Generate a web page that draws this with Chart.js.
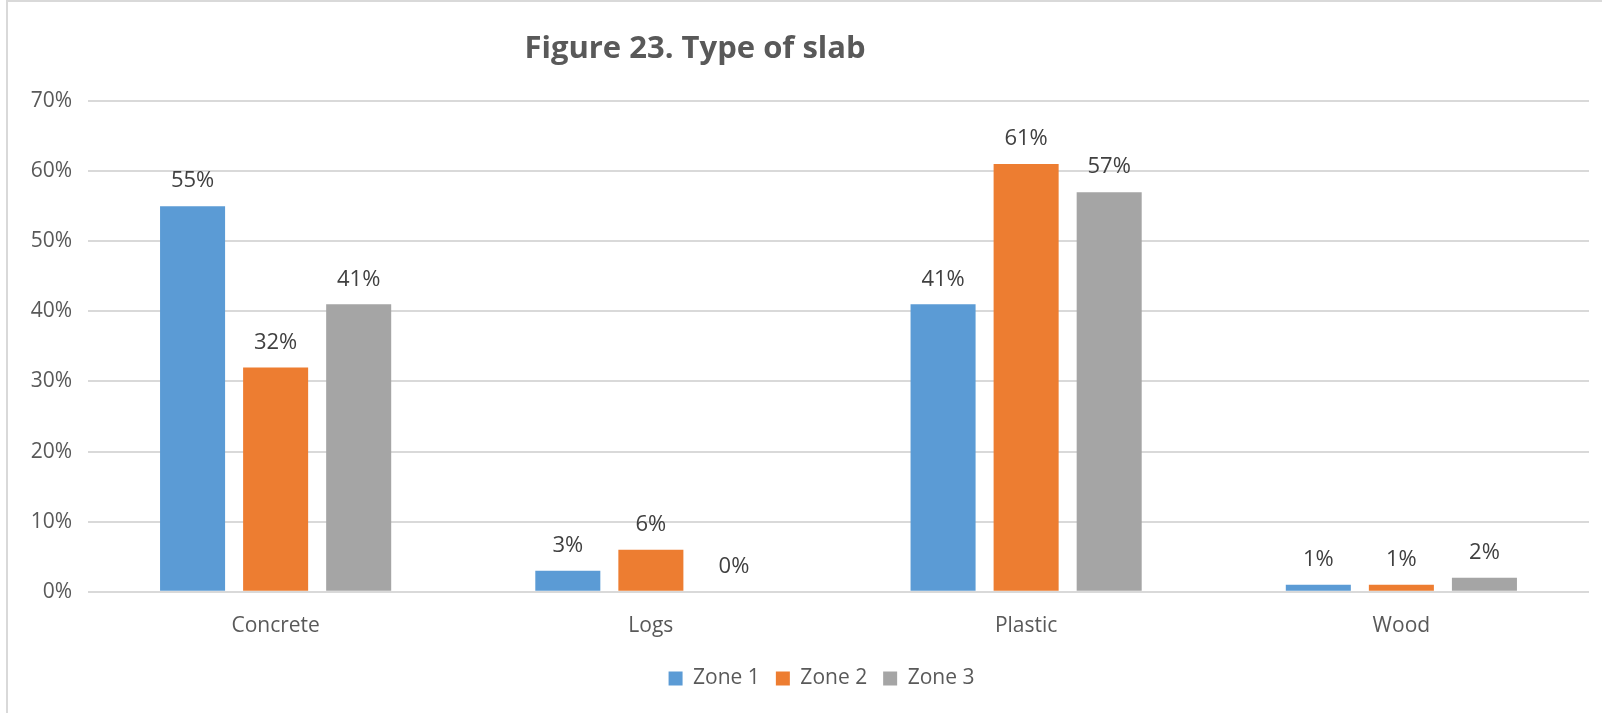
<!DOCTYPE html>
<html>
<head>
<meta charset="utf-8">
<script src="https://cdn.jsdelivr.net/npm/chart.js@4"></script>
<style>
  html, body { margin: 0; padding: 0; background: #fff; overflow: hidden; }
  #frame {
    position: absolute; left: 6px; top: 0;
    width: 1594px; height: 711px;
    border: 2px solid #d9d9d9;
  }
  #chart { display: block; }
</style>
</head>
<body>
<div id="frame"><canvas id="chart" width="1594" height="711"></canvas></div>
<script>
const categories = ['Concrete', 'Logs', 'Plastic', 'Wood'];
const zone1 = [55, 3, 41, 1];
const zone2 = [32, 6, 61, 1];
const zone3 = [41, 0, 57, 2];
const yTicks = [0, 10, 20, 30, 40, 50, 60, 70];
const titleText = 'Figure 23. Type of slab';

const FONT = '"Open Sans", "Liberation Sans", sans-serif';

// title sits left of centre in the original, so draw it ourselves
const titlePlugin = {
  id: 'offsetTitle',
  afterDraw(chart) {
    const ctx = chart.ctx;
    ctx.save();
    ctx.font = 'bold 31px ' + FONT;
    ctx.fillStyle = '#595959';
    ctx.textAlign = 'center';
    ctx.textBaseline = 'middle';
    ctx.fillText(titleText, 687, 47);
    ctx.restore();
  }
};

// value labels above each bar
const valueLabels = {
  id: 'valueLabels',
  afterDatasetsDraw(chart) {
    const ctx = chart.ctx;
    ctx.save();
    ctx.font = '22px ' + FONT;
    ctx.fillStyle = '#404040';
    ctx.textAlign = 'center';
    ctx.textBaseline = 'middle';
    chart.data.datasets.forEach((ds, i) => {
      chart.getDatasetMeta(i).data.forEach((bar, j) => {
        ctx.fillText(ds.data[j] + '%', bar.x, bar.y - 25);
      });
    });
    ctx.restore();
  }
};

// legend in the original is pushed a bit right of the canvas centre
const legendShift = {
  id: 'legendShift',
  afterLayout(chart) {
    chart.legend.left += 23;
    chart.legend.right += 23;
  }
};

new Chart(document.getElementById('chart'), {
  type: 'bar',
  data: {
    labels: categories,
    datasets: [
      { label: 'Zone 1', data: zone1, backgroundColor: '#5B9BD5' },
      { label: 'Zone 2', data: zone2, backgroundColor: '#ED7D31' },
      { label: 'Zone 3', data: zone3, backgroundColor: '#A5A5A5' }
    ]
  },
  options: {
    responsive: false,
    animation: false,
    categoryPercentage: 0.664,
    barPercentage: 0.783,
    layout: { padding: { top: 99, right: 13, bottom: 14, left: 0 } },
    plugins: {
      title: { display: false },
      tooltip: { enabled: false },
      legend: {
        position: 'bottom',
        labels: {
          boxWidth: 14, boxHeight: 14, padding: 16,
          color: '#595959',
          font: { family: FONT, size: 21 }
        }
      }
    },
    scales: {
      x: {
        afterFit: s => { s.height -= 9; },
        grid: { display: false, drawTicks: false },
        border: { display: false },
        ticks: { color: '#595959', padding: 22, font: { family: FONT, size: 21 } }
      },
      y: {
        min: 0, max: 70,
        afterFit: s => { s.width = 80; },
        afterBuildTicks: s => { s.ticks = yTicks.map(v => ({ value: v })); },
        grid: { color: '#d9d9d9', lineWidth: 2, drawTicks: false },
        border: { display: false },
        ticks: {
          color: '#595959', padding: 16,
          font: { family: FONT, size: 21 },
          callback: v => v + '%'
        }
      }
    }
  },
  plugins: [titlePlugin, valueLabels, legendShift]
});
</script>
</body>
</html>
